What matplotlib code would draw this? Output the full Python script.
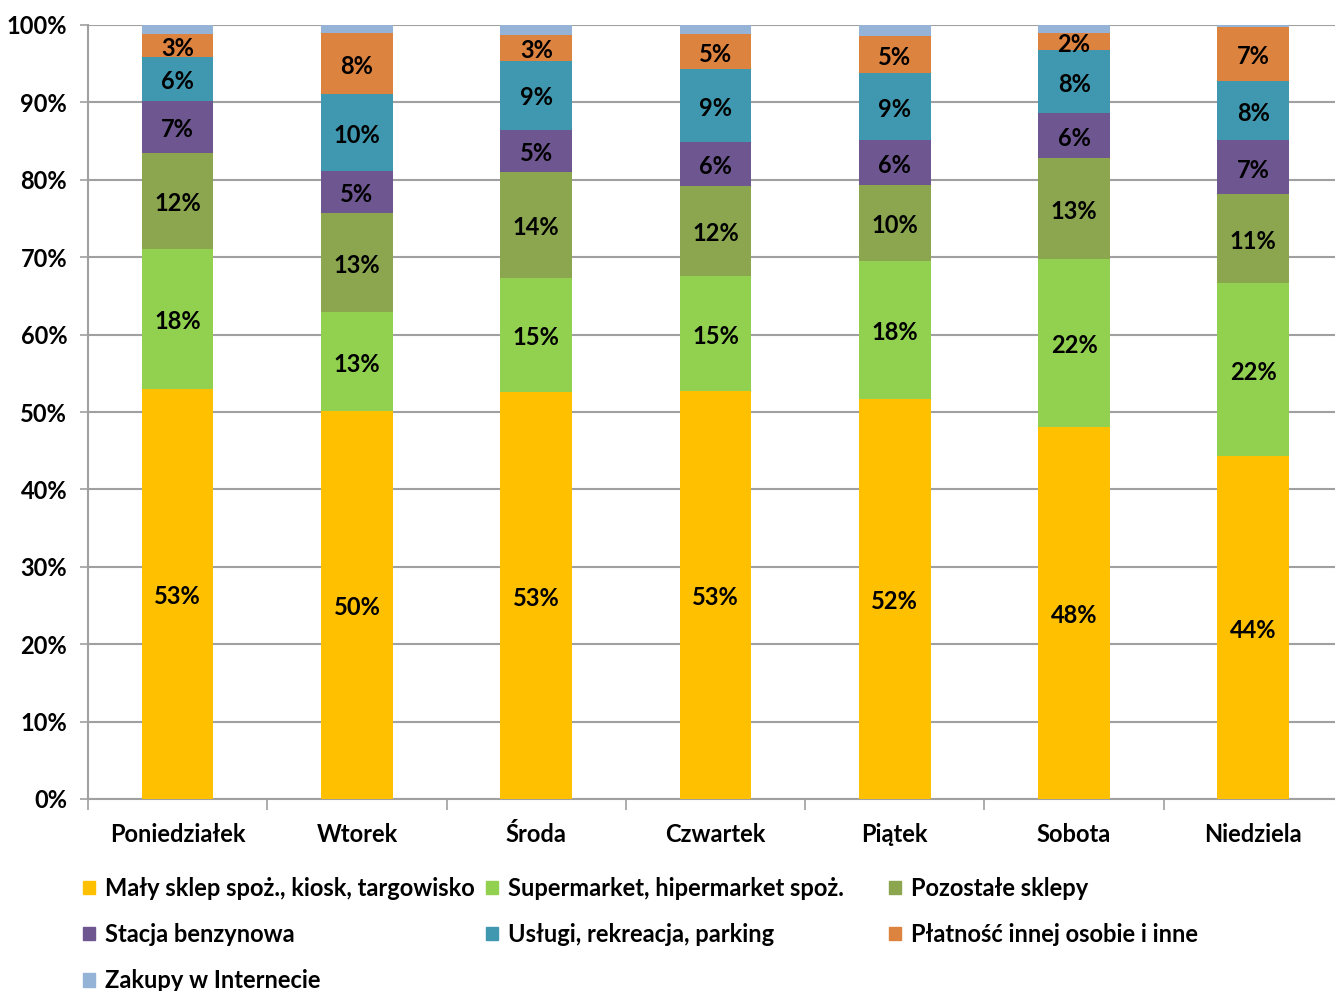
import matplotlib
matplotlib.use("Agg")
import matplotlib.pyplot as plt
import matplotlib.patches as mpatches
import numpy as np

plt.rcParams['font.family'] = ['Lato', 'DejaVu Sans']
plt.rcParams['font.weight'] = 'bold'

days = ["Poniedziałek", "Wtorek", "Środa", "Czwartek", "Piątek", "Sobota", "Niedziela"]

series_names = [
    "Mały sklep spoż., kiosk, targowisko",
    "Supermarket, hipermarket spoż.",
    "Pozostałe sklepy",
    "Stacja benzynowa",
    "Usługi, rekreacja, parking",
    "Płatność innej osobie i inne",
    "Zakupy w Internecie",
]

maly_sklep   = [52.97, 50.13, 52.60, 52.71, 51.68, 48.06, 44.32]
supermarket  = [18.09, 12.79, 14.76, 14.86, 17.83, 21.71, 22.35]
pozostale    = [12.40, 12.79, 13.70, 11.63,  9.82, 13.05, 11.45]
stacja       = [ 6.72,  5.43,  5.42,  5.68,  5.81,  5.81,  6.97]
uslugi       = [ 5.68,  9.95,  8.92,  9.40,  8.60,  8.14,  7.62]
platnosc     = [ 2.97,  7.88,  3.36,  4.60,  4.84,  2.20,  7.03]
internet     = [ 1.17,  1.03,  1.24,  1.12,  1.42,  1.03,  0.26]

series = [maly_sklep, supermarket, pozostale, stacja, uslugi, platnosc, internet]
colors = ["#FFC000", "#92D050", "#8BA64F", "#6E5690", "#4098B0", "#DD8340", "#95B3D7"]
labelled = [True, True, True, True, True, True, False]

FS = 17

fig = plt.figure(figsize=(13.35, 9.91), dpi=100)
ax = fig.add_axes([88 / 1335, 1 - 799 / 991, (1343 - 88) / 1335, (799 - 25) / 991])

x = np.arange(len(days))
bottom = np.zeros(len(days))
for vals, col, lab in zip(series, colors, labelled):
    vals = np.array(vals)
    ax.bar(x, vals, width=0.4, bottom=bottom, color=col, zorder=3)
    if lab:
        for xi, b, v in zip(x, bottom, vals):
            ax.annotate(f"{int(v + 0.5)}%", (xi, b + v / 2), xytext=(0, -2),
                        textcoords="offset points", ha="center", va="center",
                        fontsize=FS, fontweight="bold", color="black", zorder=4)
    bottom += vals

ax.set_xlim(-0.5, len(days) - 0.5)
ax.set_ylim(0, 100)
ax.set_yticks(np.arange(0, 101, 10))
ax.set_yticklabels([f"{v}%" for v in range(0, 101, 10)], fontsize=FS, fontweight="bold")
ax.yaxis.grid(True, color="#A0A0A0", linewidth=1.5, zorder=0)
ax.set_axisbelow(True)

ax.set_xticks(x)
ax.set_xticklabels(days, fontsize=FS, fontweight="bold")
ax.tick_params(axis="x", length=0, pad=17)
ax.set_xticks(np.arange(-0.5, len(days)), minor=True)
ax.tick_params(axis="x", which="minor", length=8, width=1.2, color="#A0A0A0", direction="out")
ax.tick_params(axis="y", length=6, width=1.2, color="#A0A0A0", pad=9)

for s in ["top", "right"]:
    ax.spines[s].set_visible(False)
for s in ["left", "bottom"]:
    ax.spines[s].set_color("#A0A0A0")
    ax.spines[s].set_linewidth(1.5)

# legend laid out in three fixed columns
columns = [[0, 3, 6], [1, 4], [2, 5]]
col_x = [83 / 1335, 486 / 1335, 889 / 1335]
for cx, idxs in zip(col_x, columns):
    handles = [mpatches.Patch(color=colors[i], label=series_names[i]) for i in idxs]
    fig.legend(handles=handles, loc="upper left", bbox_to_anchor=(cx, 1 - 877 / 991),
               frameon=False, handlelength=0.5, handleheight=0.5,
               handletextpad=0.45, labelspacing=0.98, borderaxespad=0, borderpad=0,
               prop={"weight": "bold", "size": FS})

fig.savefig("out.png", dpi=100)
